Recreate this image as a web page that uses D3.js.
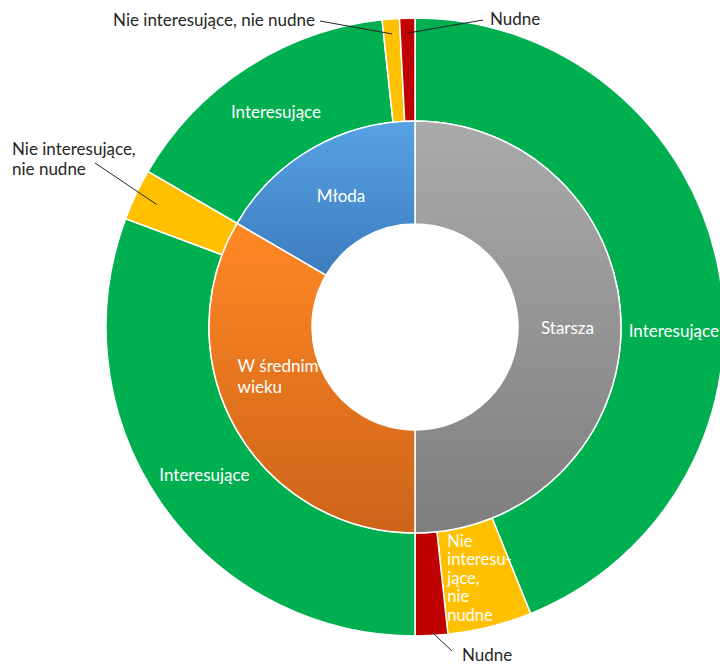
<!DOCTYPE html>
<html lang="pl">
<head>
    <meta charset="UTF-8">
    <title>Sunburst</title>
    <style>
        body { margin: 0; background: #fff; }
        text { font-family: Lato, "Noto Sans", sans-serif; font-size: 17px; }
    </style>
</head>
<body>
    <script src="https://cdnjs.cloudflare.com/ajax/libs/d3/7.8.5/d3.min.js"></script>
    <script>
        // Data (shares of all answers, in %)
        const groups = ["Starsza", "W średnim wieku", "Młoda"];
        const categories = ["Interesujące", "Nie interesujące, nie nudne", "Nudne"];
        const starsza = [43.9, 4.4, 1.7];
        const sredni = [30.7, 2.7, 0];
        const mloda = [14.9, 0.9, 0.8];
        const series = [starsza, sredni, mloda];

        // Layout
        const width = 720, height = 665,
            cx = 415, cy = 327,
            r0 = 103, r1 = 206, r2 = 309;

        const catColor = d3.scaleOrdinal()
            .domain(categories)
            .range(["#00B050", "#FFC000", "#C00000"]);
        const grad = {
            "Starsza": ["#AAAAAA", "#7E7E7E"],
            "W średnim wieku": ["#FF8824", "#CD6419"],
            "Młoda": ["#56A2E4", "#3C7CBD"]
        };

        const svg = d3.select("body").append("svg")
            .attr("width", width)
            .attr("height", height);

        const defs = svg.append("defs");
        groups.forEach(function(g, i) {
            const lg = defs.append("linearGradient")
                .attr("id", "grad" + i)
                .attr("x1", 0).attr("y1", 0).attr("x2", 0).attr("y2", 1);
            lg.append("stop").attr("offset", "0%").attr("stop-color", grad[g][0]);
            lg.append("stop").attr("offset", "100%").attr("stop-color", grad[g][1]);
        });

        const chart = svg.append("g")
            .attr("transform", "translate(" + cx + "," + cy + ")");

        const pie = d3.pie().sort(null).value(function(d) { return d.value; });

        const innerData = pie(groups.map(function(g, i) {
            return { group: g, idx: i, value: d3.sum(series[i]) };
        }));
        const outerRows = [];
        groups.forEach(function(g, i) {
            categories.forEach(function(c, j) {
                outerRows.push({ group: g, cat: c, value: series[i][j] });
            });
        });
        const outerData = pie(outerRows).filter(function(d) { return d.data.value > 0; });

        const innerArc = d3.arc().innerRadius(r0).outerRadius(r1);
        const outerArc = d3.arc().innerRadius(r1).outerRadius(r2);

        chart.selectAll(".outer")
            .data(outerData)
            .enter().append("path")
            .attr("class", "outer")
            .attr("d", outerArc)
            .attr("fill", function(d) { return catColor(d.data.cat); })
            .attr("stroke", "#fff")
            .attr("stroke-width", 1.5);

        chart.selectAll(".inner")
            .data(innerData)
            .enter().append("path")
            .attr("class", "inner")
            .attr("d", innerArc)
            .attr("fill", function(d) { return "url(#grad" + d.data.idx + ")"; })
            .attr("stroke", "#fff")
            .attr("stroke-width", 1.5);

        // wrapped, left-aligned label block centred on a point
        function block(x, y, lines, color, lh, size) {
            const t = chart.append("text")
                .attr("fill", color)
                .attr("dominant-baseline", "central");
            if (size) t.style("font-size", size + "px");
            lines.forEach(function(s, k) {
                t.append("tspan")
                    .attr("y", y - (lines.length - 1) * lh / 2 + k * lh)
                    .text(s);
            });
            let w = 0;
            t.selectAll("tspan").each(function() { w = Math.max(w, this.getComputedTextLength()); });
            t.selectAll("tspan").attr("x", x - w / 2);
            return t;
        }

        // inner labels
        const innerLines = { "Starsza": ["Starsza"], "W średnim wieku": ["W średnim", "wieku"], "Młoda": ["Młoda"] };
        const innerShift = { "Starsza": [-2, 0], "W średnim wieku": [-3, -28], "Młoda": [3, 2] };
        innerData.forEach(function(d) {
            const c = innerArc.centroid(d), s = innerShift[d.data.group];
            block(c[0] + s[0], c[1] + s[1], innerLines[d.data.group], "#fff", 21);
        });

        // outer labels inside slices
        outerData.forEach(function(d) {
            const c = outerArc.centroid(d);
            if (d.data.cat === "Interesujące") {
                const shift = d.data.group === "Starsza" ? [6, 52] : [1, 0];
                block(c[0] + shift[0], c[1] + shift[1], ["Interesujące"], "#fff", 20);
            }
            if (d.data.group === "Starsza" && d.data.cat === "Nie interesujące, nie nudne") {
                block(c[0] + 2, c[1] + 1, ["Nie", "interesu-", "jące,", "nie", "nudne"], "#fff", 18.5, 16.5);
            }
        });

        // callout labels with leader lines: [group, category, anchor radius, line end, text pos, anchor, lines]
        const callouts = [
            ["Młoda", "Nie interesujące, nie nudne", 294, [-95, -306], [-100, -308], "end", ["Nie interesujące, nie nudne"]],
            ["Młoda", "Nudne", 294, [68, -307], [75, -309], "start", ["Nudne"]],
            ["W średnim wieku", "Nie interesujące, nie nudne", 286, [-320, -164], [-403, -179], "start", ["Nie interesujące,", "nie nudne"]],
            ["Starsza", "Nudne", 305, [37, 324], [47, 327], "start", ["Nudne"]]
        ];
        callouts.forEach(function(co) {
            const d = outerData.find(function(e) { return e.data.group === co[0] && e.data.cat === co[1]; });
            const a = (d.startAngle + d.endAngle) / 2;
            const px = co[2] * Math.sin(a), py = -co[2] * Math.cos(a);
            chart.append("line")
                .attr("x1", px).attr("y1", py)
                .attr("x2", co[3][0]).attr("y2", co[3][1])
                .attr("stroke", "#262626")
                .attr("stroke-width", 1);
            const t = chart.append("text")
                .attr("fill", "#262626")
                .attr("dominant-baseline", "central")
                .attr("text-anchor", co[5]);
            co[6].forEach(function(s, k) {
                t.append("tspan")
                    .attr("x", co[4][0])
                    .attr("y", co[4][1] + k * 20)
                    .text(s);
            });
        });
    </script>
</body>
</html>
